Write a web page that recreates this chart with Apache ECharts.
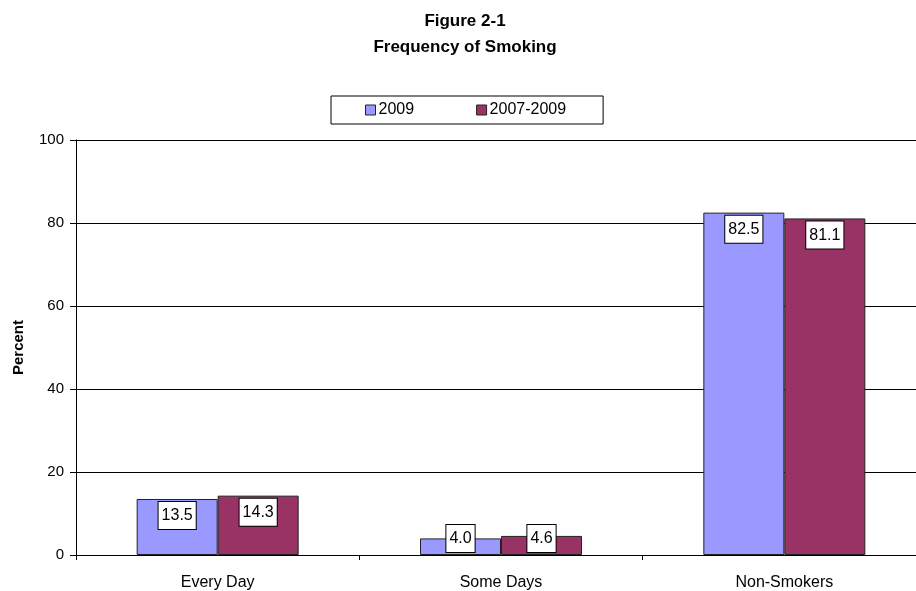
<!DOCTYPE html>
<html>
<head>
<meta charset="utf-8">
<script src="https://cdn.jsdelivr.net/npm/echarts@6/dist/echarts.min.js"></script>
<style>html,body{margin:0;padding:0;background:#fff;overflow:hidden;width:916px;height:591px;}#c{width:927px;height:591px;}</style>
</head>
<body>
<div id="c"></div>
<script>
var categories = ['Every Day', 'Some Days', 'Non-Smokers'];
var series2009 = [13.5, 4.0, 82.5];
var series20072009 = [14.3, 4.6, 81.1];
var seriesNames = ['2009', '2007-2009'];
var yTicks = [0, 20, 40, 60, 80, 100];

var FONT = 'Arial, "Liberation Sans", sans-serif';
var chart = echarts.init(document.getElementById('c'));
var labelBase = {
  show: true,
  position: 'insideTop',
  distance: 3,
  backgroundColor: '#fff',
  borderColor: '#000',
  borderWidth: 1,
  padding: [6, 3, 5, 3],
  color: '#000',
  fontFamily: FONT,
  fontSize: 16,
  formatter: function (p) { return p.value.toFixed(1); }
};
function buildData(vals) {
  return vals.map(function (v, i) {
    var d = { value: v };
    if (i === 1) d.label = { position: 'insideBottom', distance: 3 };
    return d;
  });
}
chart.setOption({
  animation: false,
  title: {
    text: 'Figure 2-1\nFrequency of Smoking',
    left: 460,
    textAlign: 'center',
    top: 3,
    textStyle: { fontFamily: FONT, fontSize: 17, fontWeight: 'bold', color: '#000', lineHeight: 26 }
  },
  legend: {
    data: seriesNames,
    left: 331,
    top: 96,
    padding: [6, 37, 6, 34],
    itemGap: 62,
    itemWidth: 10,
    itemHeight: 10,
    icon: 'rect',
    borderColor: '#000',
    borderWidth: 1,
    itemStyle: { borderColor: '#222', borderWidth: 1 },
    textStyle: { fontFamily: FONT, fontSize: 16, color: '#000', padding: [0, 0, 0, -2] }
  },
  grid: { left: 76, top: 140, width: 850, height: 416, containLabel: false },
  xAxis: {
    type: 'category',
    data: categories,
    axisLine: { lineStyle: { color: '#000', width: 1 } },
    axisTick: { show: true, alignWithLabel: false, length: 5, lineStyle: { color: '#000' } },
    axisLabel: { color: '#000', fontFamily: FONT, fontSize: 16, margin: 20 }
  },
  yAxis: {
    type: 'value',
    min: 0,
    max: 100,
    interval: 20,
    name: 'Percent',
    nameLocation: 'middle',
    nameGap: 50,
    nameTextStyle: { fontFamily: FONT, fontSize: 15, fontWeight: 'bold', color: '#000' },
    axisLine: { show: true, lineStyle: { color: '#000', width: 1 } },
    axisTick: { show: true, inside: false, length: 6, lineStyle: { color: '#000' } },
    splitLine: { show: true, lineStyle: { color: '#000', width: 1 } },
    axisLabel: { color: '#000', fontFamily: FONT, fontSize: 15, margin: 12,
      formatter: function (v) { return yTicks.indexOf(v) >= 0 ? String(v) : ''; } }
  },
  series: [
    {
      name: seriesNames[0], type: 'bar', data: buildData(series2009),
      barWidth: 81, barGap: '0%',
      itemStyle: { color: '#9999FF', borderColor: '#222', borderWidth: 1 },
      label: labelBase
    },
    {
      name: seriesNames[1], type: 'bar', data: buildData(series20072009),
      barWidth: 81, barGap: '0%',
      itemStyle: { color: '#993366', borderColor: '#222', borderWidth: 1 },
      label: labelBase
    }
  ]
});
</script>
</body>
</html>
